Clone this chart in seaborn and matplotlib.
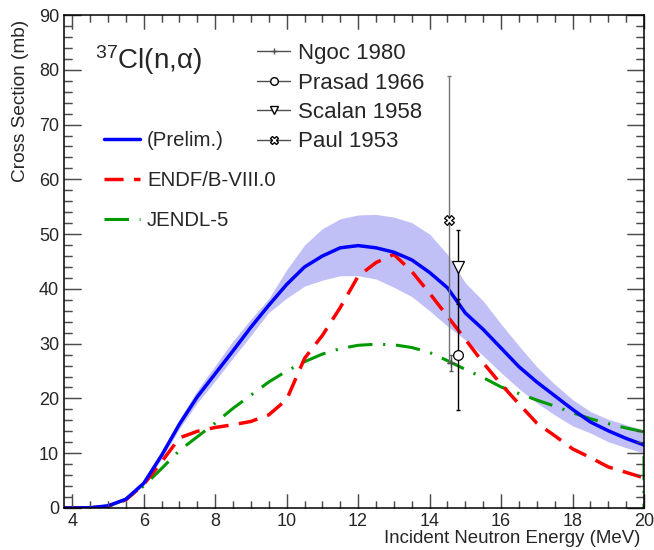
"""
37Cl(n,alpha) cross section: preliminary evaluation vs ENDF/B-VIII.0, JENDL-5
and experimental points, drawn in a ROOT-like style.
"""

import numpy as np
import matplotlib
matplotlib.use("Agg")
import matplotlib.pyplot as plt
from matplotlib.lines import Line2D
from matplotlib.ticker import MultipleLocator
import seaborn as sns

# ── data ──────────────────────────────────────────────────────────────────
energy = [3.77, 4.0, 4.5, 5.0, 5.5, 6.0, 6.5, 7.0, 7.5, 8.0, 8.5, 9.0, 9.5,
          10.0, 10.5, 11.0, 11.5, 12.0, 12.5, 13.0, 13.5, 14.0, 14.5, 15.0,
          15.5, 16.0, 16.5, 17.0, 17.5, 18.0, 18.5, 19.0, 19.5, 20.0]

prelim = [0.0, 0.0, 0.05, 0.4, 1.6, 4.5, 9.6, 15.3, 20.3, 24.5, 28.7, 33.0,
          37.0, 40.8, 44.0, 46.0, 47.5, 47.9, 47.5, 46.7, 45.3, 43.0, 40.2,
          35.6, 32.6, 29.2, 25.8, 23.0, 20.5, 18.0, 15.7, 14.1, 12.7, 11.5]
prelim_hi = [0.0, 0.0, 0.1, 0.5, 1.8, 4.9, 10.2, 16.2, 21.5, 26.0, 30.5, 34.5,
             38.2, 43.5, 48.0, 51.0, 52.8, 53.5, 53.6, 53.1, 52.1, 50.0, 46.3,
             41.1, 37.8, 33.6, 29.6, 25.8, 22.6, 19.8, 17.6, 16.2, 15.2, 14.2]
prelim_lo = [0.0, 0.0, 0.0, 0.3, 1.4, 4.1, 9.0, 14.5, 19.2, 23.2, 27.4, 31.5,
             35.7, 38.3, 40.5, 41.6, 42.4, 42.4, 41.8, 40.3, 38.6, 36.0, 33.2,
             30.7, 27.8, 24.7, 21.8, 19.2, 17.0, 15.0, 13.7, 12.1, 11.0, 10.0]

endf = [0.0, 0.0, 0.05, 0.3, 1.5, 4.3, 8.4, 12.8, 14.0, 14.7, 15.2, 15.8,
        17.0, 19.8, 27.3, 31.5, 36.6, 42.3, 44.8, 46.3, 43.2, 39.2, 35.0,
        30.8, 26.5, 22.6, 19.0, 15.5, 13.2, 10.8, 9.2, 7.5, 6.5, 5.5]

# JENDL-5 drops to zero at the 20 MeV edge
jendl_energy = energy + [20.0]
jendl = [0.0, 0.0, 0.0, 0.3, 1.6, 4.0, 7.2, 10.5, 13.0, 15.5, 18.2, 20.6,
         23.0, 25.0, 26.7, 28.1, 29.1, 29.7, 29.9, 29.8, 29.3, 28.4, 26.9,
         25.3, 23.8, 22.1, 20.9, 19.7, 18.6, 17.4, 16.3, 15.4, 14.6, 13.9, 0.0]

# experimental points
ngoc_e, ngoc_xs, ngoc_err = [14.59], [26.5], [1.5]
prasad_e, prasad_xs, prasad_err = [14.8], [28.0], [10.1]
scalan_e, scalan_xs, scalan_err = [14.8], [44.0], [6.7]
paul_e, paul_xs, paul_err = [14.53], [52.6], [26.2]

BLUE, RED, GREEN, BAND = "#0000ff", "#ff0000", "#009a00", "#c0c0f6"
RED_DASH = (0, (5.5, 3))
GREEN_DASH = (0, (8, 3.5, 0.7, 3.5))
TICK_COLOR = "0.3"

# ── style ─────────────────────────────────────────────────────────────────
sns.set_style("ticks")
plt.rcParams.update({
    "font.family": ["Liberation Sans", "DejaVu Sans"],
    "mathtext.fontset": "custom",
    "mathtext.rm": "Liberation Sans",
    "mathtext.it": "Liberation Sans:italic",
    "xtick.direction": "in", "ytick.direction": "in",
    "xtick.top": True, "ytick.right": True,
    "xtick.major.size": 10, "xtick.minor.size": 5,
    "ytick.major.size": 12, "ytick.minor.size": 5.8,
    "xtick.labelsize": 13, "ytick.labelsize": 13,
})

fig, ax = plt.subplots(figsize=(6.54, 5.5), dpi=100)
fig.subplots_adjust(left=64 / 654, right=644 / 654, bottom=42 / 550,
                    top=535 / 550)

# ── evaluations ───────────────────────────────────────────────────────────
ax.fill_between(energy, prelim_lo, prelim_hi, color=BAND, lw=0, zorder=1)
sns.lineplot(x=jendl_energy, y=jendl, ax=ax, estimator=None, sort=False,
             color=GREEN, lw=2.2, linestyle=GREEN_DASH)
sns.lineplot(x=energy, y=endf, ax=ax, estimator=None, sort=False,
             color=RED, lw=2.5, linestyle=RED_DASH)
sns.lineplot(x=energy, y=prelim, ax=ax, estimator=None, sort=False,
             color=BLUE, lw=2.5)

# ── experimental data ─────────────────────────────────────────────────────
for e, xs, err, col in [(paul_e, paul_xs, paul_err, "0.45"),
                        (ngoc_e, ngoc_xs, ngoc_err, "0.35"),
                        (prasad_e, prasad_xs, prasad_err, "k"),
                        (scalan_e, scalan_xs, scalan_err, "k")]:
    ax.errorbar(e, xs, yerr=err, fmt="none", ecolor=col, elinewidth=1,
                capsize=1.5, zorder=5)

ax.plot(ngoc_e, ngoc_xs, ls="none", marker="+", ms=6, mec="0.3", mew=1, zorder=6)
ax.plot(prasad_e, prasad_xs, ls="none", marker="o", ms=7, mfc="white",
        mec="k", mew=0.9, zorder=6)
ax.plot(scalan_e, scalan_xs, ls="none", marker="v", ms=8, mfc="white",
        mec="k", mew=0.9, zorder=6)
ax.plot(paul_e, paul_xs, ls="none", marker="X", ms=7, mfc="white",
        mec="k", mew=0.9, zorder=6)

# ── axes ──────────────────────────────────────────────────────────────────
ax.set_xlim(3.77, 20)
ax.set_ylim(0, 90)
ax.xaxis.set_major_locator(MultipleLocator(2))
ax.xaxis.set_minor_locator(MultipleLocator(0.5))
ax.yaxis.set_major_locator(MultipleLocator(10))
ax.yaxis.set_minor_locator(MultipleLocator(2))
for sp in ax.spines.values():
    sp.set_linewidth(1.1)
    sp.set_color("k")
    sp.set_zorder(7)

ax.tick_params(which="both", direction="in", top=True, right=True,
               bottom=True, left=True, color=TICK_COLOR, width=0.9)

# ROOT-style inner tick marks on all four sides, taken from the locators
# (drawn as line collections so they always sit on top of the curves)
x0, x1 = ax.get_xlim()
y0, y1 = ax.get_ylim()
xmaj = [v for v in ax.xaxis.get_majorticklocs() if x0 <= v <= x1]
xmin = [v for v in ax.xaxis.get_minorticklocs() if x0 <= v <= x1]
ymaj = [v for v in ax.yaxis.get_majorticklocs() if y0 <= v <= y1]
ymin = [v for v in ax.yaxis.get_minorticklocs() if y0 <= v <= y1]
xt, yt = ax.get_xaxis_transform(), ax.get_yaxis_transform()
tick_kw = dict(colors=TICK_COLOR, lw=0.9, zorder=6.5, clip_on=False)
for locs, frac in [(xmaj, 14 / 493), (xmin, 7 / 493)]:
    ax.vlines(locs, 0, frac, transform=xt, **tick_kw)
    ax.vlines(locs, 1 - frac, 1, transform=xt, **tick_kw)
for locs, frac in [(ymaj, 17 / 580), (ymin, 8 / 580)]:
    ax.hlines(locs, 0, frac, transform=yt, **tick_kw)
    ax.hlines(locs, 1 - frac, 1, transform=yt, **tick_kw)
ax.set_xlim(x0, x1)
ax.set_ylim(y0, y1)

ax.set_xlabel("Incident Neutron Energy (MeV)", fontsize=13.4, loc="right")
ax.set_ylabel("Cross Section (mb)", fontsize=13.7, loc="top")
ax.xaxis.set_label_coords(0.993, -0.045)
ax.yaxis.set_label_coords(-0.061, 0.99)

ax.text(0.054, 0.909, r"$^{37}$Cl(n,α)", transform=ax.transAxes,
        fontsize=20, ha="left", va="center")

# ── legends ───────────────────────────────────────────────────────────────
exp_handles = [
    Line2D([], [], color="0.3", lw=1, marker="+", ms=5, mec="0.3"),
    Line2D([], [], color="0.3", lw=1, marker="o", ms=5.5, mfc="white", mec="k"),
    Line2D([], [], color="0.3", lw=1, marker="v", ms=6, mfc="white", mec="k"),
    Line2D([], [], color="0.3", lw=1, marker="X", ms=5.5, mfc="white", mec="k"),
]
exp_labels = ["Ngoc 1980", "Prasad 1966", "Scalan 1958", "Paul 1953"]
leg1 = ax.legend(exp_handles, exp_labels, loc="upper left",
                 bbox_to_anchor=(0.333, 0.943), frameon=False, fontsize=16,
                 borderpad=0, borderaxespad=0, labelspacing=0.38,
                 handlelength=1.5, handletextpad=0.35)
ax.add_artist(leg1)

eval_handles = [
    Line2D([], [], color=BLUE, lw=2.5),
    Line2D([], [], color=RED, lw=2.5, linestyle=RED_DASH),
    Line2D([], [], color=GREEN, lw=2.2, linestyle=GREEN_DASH),
]
eval_labels = ["(Prelim.)", "ENDF/B-VIII.0", "JENDL-5"]
ax.legend(eval_handles, eval_labels, loc="upper left",
          bbox_to_anchor=(0.069, 0.765), frameon=False, fontsize=14.7,
          borderpad=0, borderaxespad=0, labelspacing=1.03,
          handlelength=1.76, handletextpad=0.34)

fig.savefig("out.png", dpi=100)
